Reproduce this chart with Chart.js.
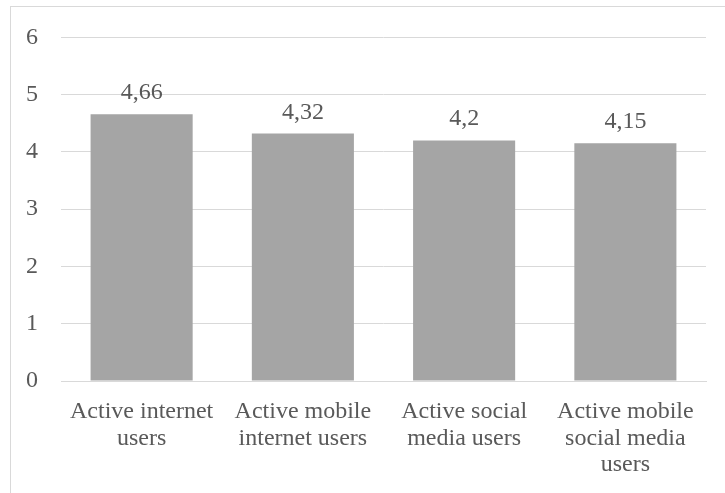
<!DOCTYPE html>
<html>
<head>
<meta charset="utf-8">
<script src="https://cdn.jsdelivr.net/npm/chart.js@4"></script>
<style>
    html, body { margin: 0; padding: 0; background: #fff; }
    #wrap { width: 725px; height: 493px; position: relative; }
</style>
</head>
<body>
<div id="wrap"><canvas id="chart"></canvas></div>
<script>
// Datos
const categories = [
    ['Active internet', 'users'],
    ['Active mobile', 'internet users'],
    ['Active social', 'media users'],
    ['Active mobile', 'social media', 'users']
];
const values = [4.66, 4.32, 4.2, 4.15];
const yTicks = [0, 1, 2, 3, 4, 5, 6];

const textColor = '#595959';
const fontFamily = '"Liberation Serif", "Times New Roman", serif';

// Marco exterior del gráfico
const framePlugin = {
    id: 'frame',
    beforeDraw(chart) {
        const ctx = chart.ctx;
        ctx.save();
        ctx.strokeStyle = '#d9d9d9';
        ctx.lineWidth = 1;
        ctx.strokeRect(10.5, 6.5, 900, 700);
        ctx.restore();
    }
};

// Etiquetas de datos encima de las barras
const dataLabels = {
    id: 'dataLabels',
    afterDatasetsDraw(chart) {
        const ctx = chart.ctx;
        const meta = chart.getDatasetMeta(0);
        ctx.save();
        ctx.fillStyle = textColor;
        ctx.font = '24px ' + fontFamily;
        ctx.textAlign = 'center';
        ctx.textBaseline = 'alphabetic';
        meta.data.forEach((bar, i) => {
            const txt = String(values[i]).replace('.', ',');
            ctx.fillText(txt, bar.x, bar.y - 15);
        });
        ctx.restore();
    }
};

const ctx = document.getElementById('chart').getContext('2d');
new Chart(ctx, {
    type: 'bar',
    data: {
        labels: categories,
        datasets: [{
            data: values,
            backgroundColor: '#a5a5a5',
            borderWidth: 0,
            categoryPercentage: 1,
            barPercentage: 0.633
        }]
    },
    options: {
        responsive: true,
        maintainAspectRatio: false,
        animation: false,
        layout: { padding: { top: 35, right: 19, bottom: 0, left: 0 } },
        plugins: {
            legend: { display: false },
            tooltip: { enabled: false }
        },
        scales: {
            x: {
                grid: { display: false, drawTicks: false },
                border: { color: '#d9d9d9' },
                ticks: {
                    color: textColor,
                    font: { family: fontFamily, size: 24, lineHeight: 1.12 },
                    padding: 17,
                    maxRotation: 0,
                    autoSkip: false
                },
                afterFit(scale) { scale.height = 112; }
            },
            y: {
                min: 0,
                max: 6,
                afterBuildTicks(scale) { scale.ticks = yTicks.map(v => ({ value: v })); },
                grid: { color: '#d9d9d9', drawTicks: false },
                border: { display: false },
                ticks: {
                    color: textColor,
                    font: { family: fontFamily, size: 24 },
                    padding: 23
                },
                afterFit(scale) { scale.width = 61; }
            }
        }
    },
    plugins: [framePlugin, dataLabels]
});
</script>
</body>
</html>
